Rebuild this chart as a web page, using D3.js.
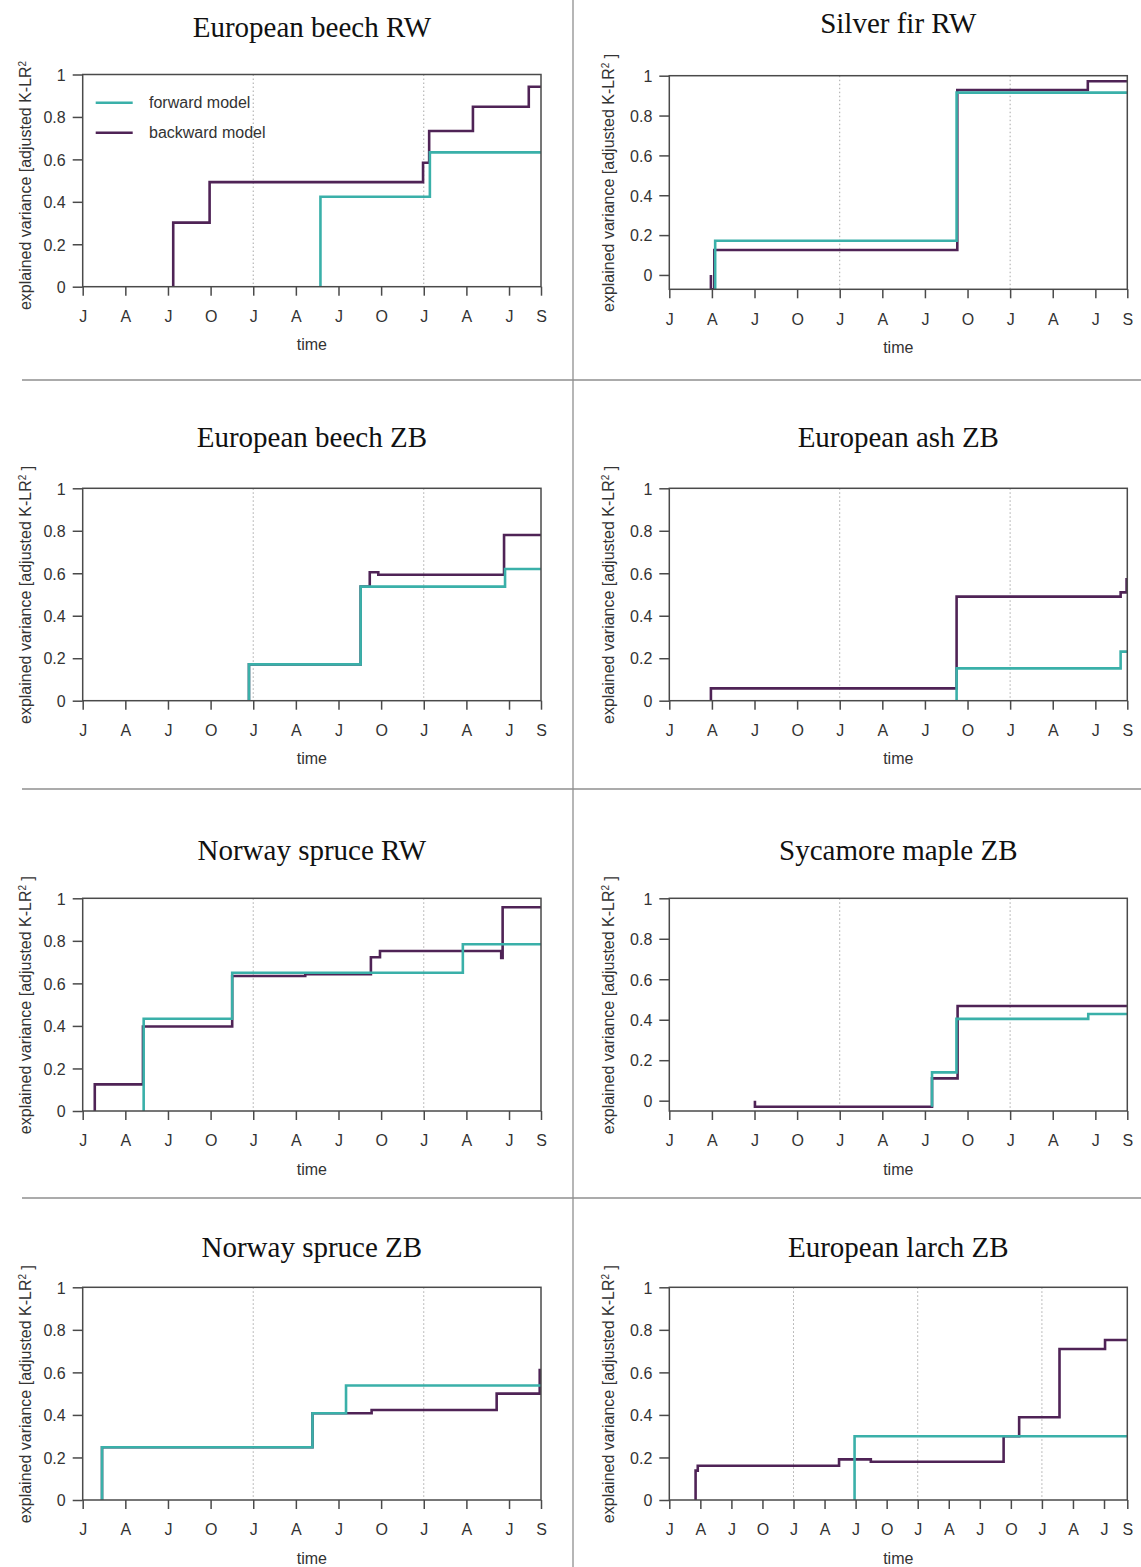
<!DOCTYPE html>
<html>
<head>
<meta charset="utf-8">
<script src="https://cdn.jsdelivr.net/npm/d3@7"></script>
<style>
  html, body { margin: 0; padding: 0; background: #ffffff; }
  svg { display: block; }
  .tick text { font-family: "Liberation Sans", Arial, sans-serif; font-size: 16px; fill: #333; }
</style>
</head>
<body>
<script>
// ---- axis labels (time axis in months since January of the first year) ----
const monthLabels3y = ["J", "A", "J", "O", "J", "A", "J", "O", "J", "A", "J", "S"];
const monthTicks3y = [0, 3, 6, 9, 12, 15, 18, 21, 24, 27, 30, 32.25];
const monthLabels4y = ["J", "A", "J", "O", "J", "A", "J", "O", "J", "A", "J", "O", "J", "A", "J", "S"];
const monthTicks4y = [0, 3, 6, 9, 12, 15, 18, 21, 24, 27, 30, 33, 36, 39, 42, 44.25];
const yearStarts3y = [12, 24];
const yearStarts4y = [12, 24, 36];
const yTickValues = [0, 0.2, 0.4, 0.6, 0.8, 1];
const yTickLabels = ["0", "0.2", "0.4", "0.6", "0.8", "1"];

const panelTitles = [
  "European beech RW", "Silver fir RW",
  "European beech ZB", "European ash ZB",
  "Norway spruce RW", "Sycamore maple ZB",
  "Norway spruce ZB", "European larch ZB"
];
const seriesNames = ["forward model", "backward model"];

// ---- step series: [month, explained variance] ----
const beechRW_forward  = [[16.73, 0], [16.73, 0.424], [24.43, 0.633], [32.25, 0.633]];
const beechRW_backward = [[6.37, 0], [6.37, 0.302], [8.93, 0.493], [23.95, 0.584], [24.38, 0.734], [27.46, 0.848], [31.39, 0.942], [32.25, 0.942]];

const silverRW_forward  = [[3.23, -0.072], [3.23, 0.172], [20.23, 0.915], [32.25, 0.915]];
const silverRW_backward = [[2.93, 0], [2.93, -0.072], [3.17, 0.125], [20.28, 0.928], [29.47, 0.972], [32.25, 0.972]];

const beechZB_forward  = [[11.7, 0], [11.7, 0.171], [19.56, 0.537], [29.72, 0.62], [32.25, 0.62]];
const beechZB_backward = [[11.7, 0], [11.7, 0.171], [19.56, 0.537], [20.2, 0.605], [20.8, 0.593], [29.65, 0.78], [32.25, 0.78]];

const ashZB_forward  = [[20.23, 0], [20.23, 0.152], [31.78, 0.231], [32.25, 0.231]];
const ashZB_backward = [[2.93, 0], [2.93, 0.058], [20.23, 0.49], [31.78, 0.51], [32.2, 0.571], [32.25, 0.571]];

const spruceRW_forward  = [[4.29, 0], [4.29, 0.434], [10.52, 0.65], [26.75, 0.784], [32.25, 0.784]];
const spruceRW_backward = [[0.85, 0], [0.85, 0.125], [4.24, 0.397], [10.52, 0.635], [15.66, 0.643], [20.28, 0.723], [20.92, 0.752], [29.45, 0.72], [29.55, 0.958], [32.25, 0.958]];

const mapleZB_forward  = [[18.5, -0.03], [18.5, 0.14], [20.22, 0.404], [29.5, 0.428], [32.25, 0.428]];
const mapleZB_backward = [[6.03, 0], [6.03, -0.03], [18.5, 0.11], [20.3, 0.468], [32.25, 0.468]];

const spruceZB_forward  = [[1.36, 0], [1.36, 0.248], [16.17, 0.408], [18.53, 0.538], [32.25, 0.538]];
const spruceZB_backward = [[1.36, 0], [1.36, 0.248], [16.17, 0.408], [20.33, 0.423], [29.13, 0.5], [32.16, 0.611], [32.25, 0.611]];

const larchZB_forward  = [[17.9, 0], [17.9, 0.30], [44.25, 0.30]];
const larchZB_backward = [[2.54, 0], [2.54, 0.138], [2.75, 0.161], [16.4, 0.191], [19.47, 0.18], [32.3, 0.30], [33.8, 0.389], [37.7, 0.71], [42.1, 0.752], [44.25, 0.752]];

const forwardSeries  = [beechRW_forward, silverRW_forward, beechZB_forward, ashZB_forward, spruceRW_forward, mapleZB_forward, spruceZB_forward, larchZB_forward];
const backwardSeries = [beechRW_backward, silverRW_backward, beechZB_backward, ashZB_backward, spruceRW_backward, mapleZB_backward, spruceZB_backward, larchZB_backward];
const yLowerBounds = [0, -0.072, 0, 0, 0, -0.051, 0, 0];

// ---- page layout ----
const W = 1141, H = 1567;
const colors = { forward: "#3ab0a9", backward: "#4f2356" };
const columns = [
  { left: 82.7, right: 541, yLabelX: 25 },
  { left: 669.3, right: 1127.3, yLabelX: 608 }
];
const frames = [
  { top: 74.5, bottom: 286.7, titleY: 26.7 },
  { top: 75.7, bottom: 289.3, titleY: 23.3 },
  { top: 488.3, bottom: 700.7, titleY: 436.7 },
  { top: 488.3, bottom: 700.7, titleY: 436.7 },
  { top: 898.3, bottom: 1111, titleY: 850 },
  { top: 898.3, bottom: 1111, titleY: 850 },
  { top: 1287.3, bottom: 1500, titleY: 1246.7 },
  { top: 1287.3, bottom: 1500, titleY: 1246.7 }
];

const svg = d3.select("body").append("svg")
  .attr("width", W).attr("height", H)
  .attr("viewBox", `0 0 ${W} ${H}`);

svg.append("rect").attr("width", W).attr("height", H).attr("fill", "#fff");

// panel separators
const sepColor = "#8f8f8f";
[380, 789, 1198].forEach(y => {
  svg.append("line").attr("x1", 22).attr("x2", W).attr("y1", y).attr("y2", y)
    .attr("stroke", sepColor).attr("stroke-width", 1.3);
});
svg.append("line").attr("x1", 573).attr("x2", 573).attr("y1", 0).attr("y2", H)
  .attr("stroke", sepColor).attr("stroke-width", 1.3);

const defs = svg.append("defs");

panelTitles.forEach((title, i) => {
  const col = columns[i % 2];
  const fr = frames[i];
  const isLarch = i === 7;
  const tickVals = isLarch ? monthTicks4y : monthTicks3y;
  const tickLabs = isLarch ? monthLabels4y : monthLabels3y;
  const yearLines = isLarch ? yearStarts4y : yearStarts3y;

  const x = d3.scaleLinear().domain([0, tickVals[tickVals.length - 1]]).range([col.left, col.right]);
  const y = d3.scaleLinear().domain([yLowerBounds[i], 1]).range([fr.bottom, fr.top]);

  const g = svg.append("g").attr("class", "panel");

  defs.append("clipPath").attr("id", "clip" + i)
    .append("rect")
    .attr("x", col.left).attr("y", fr.top - 2)
    .attr("width", col.right - col.left).attr("height", fr.bottom - fr.top + 2);

  // title
  g.append("text")
    .attr("x", (col.left + col.right) / 2).attr("y", fr.titleY)
    .attr("dy", "0.35em")
    .attr("text-anchor", "middle")
    .style("font-family", "'Liberation Serif', 'Times New Roman', serif")
    .style("font-size", "29px")
    .style("fill", "#111")
    .text(title);

  // year boundaries
  g.selectAll("line.year").data(yearLines).enter().append("line")
    .attr("class", "year")
    .attr("x1", d => x(d)).attr("x2", d => x(d))
    .attr("y1", fr.top).attr("y2", fr.bottom)
    .attr("stroke", "#a8a8a8").attr("stroke-width", 1)
    .attr("stroke-dasharray", "1.5,2.5");

  // step lines
  const line = d3.line().x(d => x(d[0])).y(d => y(d[1])).curve(d3.curveStepAfter);
  const seriesG = g.append("g").attr("clip-path", `url(#clip${i})`);
  seriesG.append("path").datum(backwardSeries[i])
    .attr("d", line).attr("fill", "none")
    .attr("stroke", colors.backward).attr("stroke-width", 2.6);
  seriesG.append("path").datum(forwardSeries[i])
    .attr("d", line).attr("fill", "none")
    .attr("stroke", colors.forward).attr("stroke-width", 2.6);

  // frame
  g.append("rect")
    .attr("x", col.left).attr("y", fr.top)
    .attr("width", col.right - col.left).attr("height", fr.bottom - fr.top)
    .attr("fill", "none").attr("stroke", "#4a4a4a").attr("stroke-width", 1.5);

  // x axis
  const xAxis = d3.axisBottom(x)
    .tickValues(tickVals)
    .tickFormat((d, k) => tickLabs[k])
    .tickSize(9).tickSizeOuter(0).tickPadding(15);
  const gx = g.append("g").attr("transform", `translate(0,${fr.bottom})`).call(xAxis);
  gx.select(".domain").remove();
  gx.selectAll(".tick line").attr("stroke", "#4a4a4a").attr("stroke-width", 1.5);

  // y axis
  const yAxis = d3.axisLeft(y)
    .tickValues(yTickValues)
    .tickFormat((d, k) => yTickLabels[k])
    .tickSize(10).tickSizeOuter(0).tickPadding(7);
  const gy = g.append("g").attr("transform", `translate(${col.left},0)`).call(yAxis);
  gy.select(".domain").remove();
  gy.selectAll(".tick line").attr("stroke", "#4a4a4a").attr("stroke-width", 1.5);
  gy.selectAll(".tick text").attr("dy", "0.36em");

  // axis titles
  g.append("text")
    .attr("x", (col.left + col.right) / 2).attr("y", fr.bottom + 58)
    .attr("dy", "0.35em")
    .attr("text-anchor", "middle")
    .style("font-family", "'Liberation Sans', Arial, sans-serif")
    .style("font-size", "16px").style("fill", "#333")
    .text("time");

  const cy = (fr.top + fr.bottom) / 2 + 129.5;
  const yt = g.append("text")
    .attr("transform", `translate(${col.yLabelX},${cy}) rotate(-90)`)
    .attr("dy", "0.35em")
    .attr("text-anchor", "start")
    .style("font-family", "'Liberation Sans', Arial, sans-serif")
    .style("font-size", "16px").style("fill", "#333");
  yt.append("tspan").text("explained variance [adjusted K-LR");
  yt.append("tspan").attr("dy", "-0.45em").style("font-size", "10px").text("2");
  if (i !== 0) yt.append("tspan").attr("dy", "0.45em").text(" ]");

  // legend (first panel only)
  if (i === 0) {
    const lg = g.append("g");
    const legendRows = [
      { name: seriesNames[0], color: colors.forward, y: 102.7 },
      { name: seriesNames[1], color: colors.backward, y: 132.7 }
    ];
    legendRows.forEach(r => {
      lg.append("line").attr("x1", 95.7).attr("x2", 132.7).attr("y1", r.y).attr("y2", r.y)
        .attr("stroke", r.color).attr("stroke-width", 2.6);
      lg.append("text").attr("x", 149).attr("y", r.y).attr("dy", "0.35em")
        .style("font-family", "'Liberation Sans', Arial, sans-serif")
        .style("font-size", "16px").style("fill", "#333")
        .text(r.name);
    });
  }
});
</script>
</body>
</html>
